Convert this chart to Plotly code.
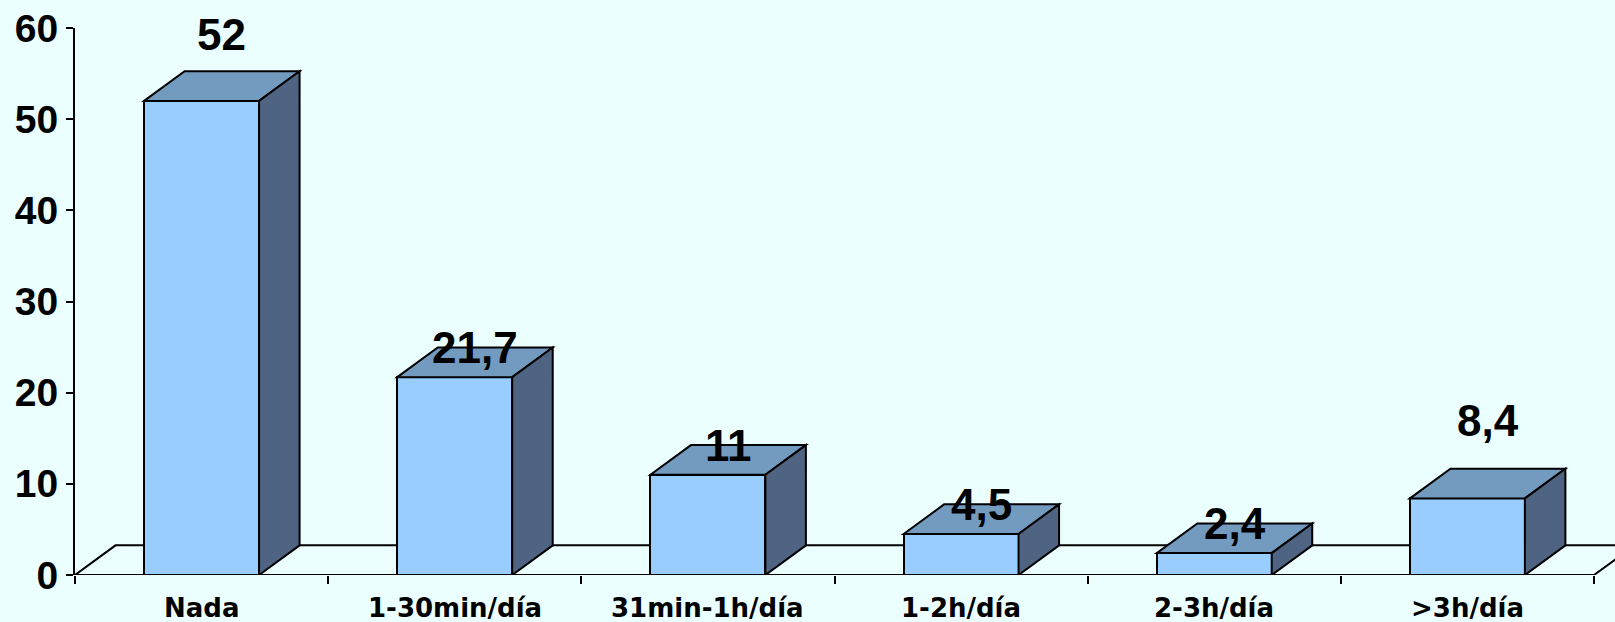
import plotly.graph_objects as go

# Daily time categories and their percentages
categories = ["Nada", "1-30min/día", "31min-1h/día", "1-2h/día", "2-3h/día", ">3h/día"]
values = [52, 21.7, 11, 4.5, 2.4, 8.4]
y_ticks = [0, 10, 20, 30, 40, 50, 60]

# Extra lift (px) for labels that sit above the box instead of on its top face
label_lift = {0: 37, 5: 48}

BG = "#EBFFFF"
FRONT = "#99CCFF"
TOP = "#739BC0"
SIDE = "#4F6482"
EDGE = "black"

# Oblique depth of the pseudo-3D boxes, in axis units
DX = 0.16
DY = 3.25
HALF_W = 0.227

n = len(categories)
xs = list(range(n))

fig = go.Figure()

# Front faces of the boxes
fig.add_trace(go.Bar(
    x=xs, y=values, width=2 * HALF_W,
    marker=dict(color=FRONT, line=dict(color=EDGE, width=2)),
    hoverinfo="skip", showlegend=False,
))

shapes = []
# Floor of the chart
x0, x1 = -0.5, n - 0.5
shapes.append(dict(
    type="path", xref="x", yref="y", layer="below",
    path=f"M {x0},0 L {x1},0 L {x1 + DX},{DY} L {x0 + DX},{DY} Z",
    line=dict(color=EDGE, width=2), fillcolor=BG,
))

# Top and side faces of each box
for i, v in zip(xs, values):
    l, r = i - HALF_W, i + HALF_W
    shapes.append(dict(
        type="path", xref="x", yref="y", layer="above",
        path=f"M {l},{v} L {l + DX},{v + DY} L {r + DX},{v + DY} L {r},{v} Z",
        line=dict(color=EDGE, width=2), fillcolor=TOP,
    ))
    shapes.append(dict(
        type="path", xref="x", yref="y", layer="above",
        path=f"M {r},0 L {r + DX},{DY} L {r + DX},{v + DY} L {r},{v} Z",
        line=dict(color=EDGE, width=2), fillcolor=SIDE,
    ))

annotations = []
# Value labels
for i, v in zip(xs, values):
    annotations.append(dict(
        x=i + DX / 2, y=v + DY, xref="x", yref="y",
        text=f"{v:g}".replace(".", ","), showarrow=False,
        xanchor="center", yanchor="middle",
        yshift=label_lift.get(i, 0),
        font=dict(family="Liberation Sans", size=44, color="black", weight="bold"),
    ))
# Category labels
for i, c in zip(xs, categories):
    annotations.append(dict(
        x=i, y=0, xref="x", yref="y", text=c, showarrow=False,
        xanchor="center", yanchor="middle", yshift=-33,
        font=dict(family="DejaVu Sans", size=26, color="black", weight="bold"),
    ))

fig.update_layout(
    width=1615, height=622,
    margin=dict(l=75, r=0, t=28, b=47),
    paper_bgcolor=BG, plot_bgcolor=BG,
    shapes=shapes, annotations=annotations,
    showlegend=False, bargap=0,
    xaxis=dict(
        range=[-0.5, n - 0.5 + 21 / 253.2],
        tickvals=[k - 0.5 for k in range(n + 1)],
        showticklabels=False, ticks="outside", ticklen=8, tickwidth=2,
        tickcolor=EDGE, showline=False, showgrid=False, zeroline=False,
        fixedrange=True,
    ),
    yaxis=dict(
        range=[0, 60], tickvals=y_ticks,
        ticks="outside", ticklen=7, tickwidth=2, tickcolor=EDGE,
        showline=True, linewidth=2, linecolor=EDGE,
        showgrid=False, zeroline=False,
        tickfont=dict(family="Liberation Sans", size=39, color="black", weight="bold"),
        fixedrange=True,
    ),
)

fig.write_html("out.html")
